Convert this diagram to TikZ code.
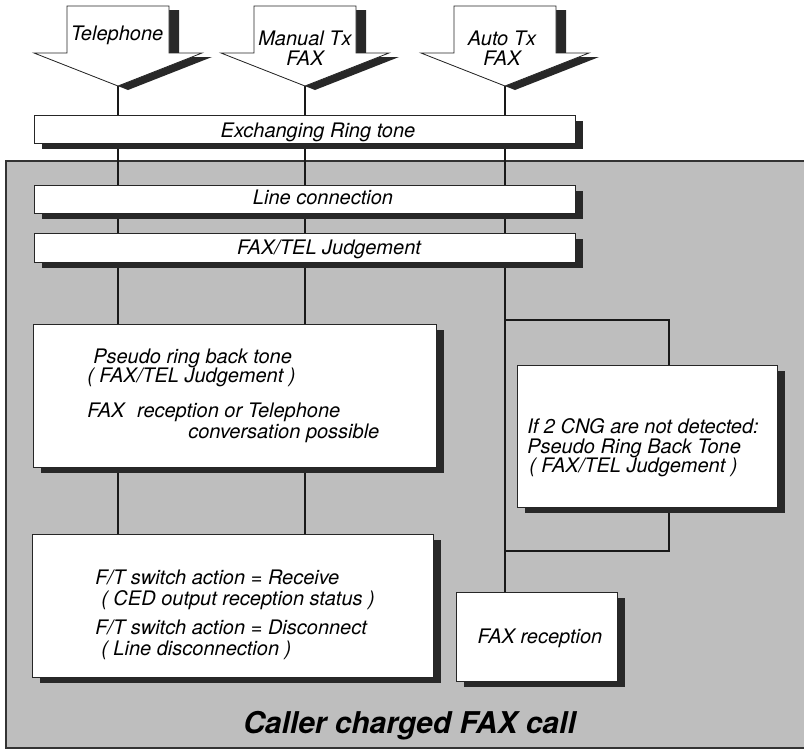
\documentclass[tikz,border=0pt]{standalone}
\usepackage{fontspec}
\setmainfont{TeX Gyre Heros}
\usetikzlibrary{shadows}
\pgfdeclarelayer{bg}
\pgfsetlayers{bg,main}
\definecolor{bggray}{RGB}{190,190,190}
\definecolor{shd}{RGB}{40,40,40}
\begin{document}
\begin{tikzpicture}[x=0.75pt,y=-0.75pt,
  txt/.style={inner sep=0pt, font=\fontsize{15}{17}\selectfont\itshape},
  box/.style={draw=black!85, line width=0.6pt, fill=white, anchor=north west, inner sep=0pt,
    drop shadow={shadow xshift=6pt, shadow yshift=-4.5pt, fill=shd, opacity=1}},
  conn/.style={line width=1.6pt, draw=black!90},
  inarrow/.pic={
    \fill[shd] (-41,10) -- (61,10) -- (61,57) -- (94,57) -- (10,90) -- (-74,57) -- (-41,57) -- cycle;
    \filldraw[fill=white, draw=black!85, line width=0.6pt]
      (-51,6) -- (51,6) -- (51,53) -- (84,53) -- (0,86) -- (-84,53) -- (-51,53) -- cycle;
    \coordinate (-tip) at (0,86);
  }]
\useasboundingbox (0,0) rectangle (804,751);

% input arrows
\pic (T) at (118,0) {inarrow};
\pic (M) at (305,0) {inarrow};
\pic (A) at (505,0) {inarrow};
\node[txt, anchor=base] (ttel) at (117,40) {Telephone};
\node[txt, anchor=base] (tman1) at (305,45) {Manual Tx};
\node[txt, anchor=base] (tman2) at (305,65) {FAX};
\node[txt, anchor=base] (taut1) at (502,45) {Auto Tx};
\node[txt, anchor=base] (taut2) at (502,65) {FAX};

% bars
\node[box, minimum width=405.75pt, minimum height=21pt] (exch) at (34,115) {};
\node[txt, anchor=base] (texch) at (318,137) {Exchanging Ring tone};
\node[box, minimum width=405.75pt, minimum height=21pt] (lconn) at (34,185) {};
\node[txt, anchor=base] (tlconn) at (323,204) {Line connection};
\node[box, minimum width=405.75pt, minimum height=21.75pt] (ftj) at (34,233) {};
\node[txt, anchor=base] (tftj) at (329,254) {FAX/TEL Judgement};

% pseudo ring back box
\node[box, minimum width=302.25pt, minimum height=107.25pt] (pseudo) at (33,324) {};
\node[txt, anchor=base west] (tp1) at (93,363) {Pseudo ring back tone};
\node[txt, anchor=base west] (tp2) at (87,382) {( FAX/TEL Judgement )};
\node[txt, anchor=base west] (tp3) at (87,417) {FAX\hspace{0.35em} reception or Telephone};
\node[txt, anchor=base west] (tp4) at (188,438) {conversation possible};

% CNG box
\node[box, minimum width=195pt, minimum height=106.5pt] (cng) at (517,365) {};
\node[txt, anchor=base west] (tc1) at (527,433) {If 2 CNG are not detected:};
\node[txt, anchor=base west] (tc2) at (527,453) {Pseudo Ring Back Tone};
\node[txt, anchor=base west] (tc3) at (529,472) {( FAX/TEL Judgement )};

% switch action box
\node[box, minimum width=300.75pt, minimum height=107.25pt] (sw) at (32,534) {};
\node[txt, anchor=base west] (ts1) at (95,584) {F/T switch action = Receive};
\node[txt, anchor=base west] (ts2) at (101,605) {( CED output reception status )};
\node[txt, anchor=base west] (ts3) at (95,634) {F/T switch action = Disconnect};
\node[txt, anchor=base west] (ts4) at (101,655) {( Line disconnection )};

% FAX reception box
\node[box, minimum width=120.75pt, minimum height=66.75pt] (faxrx) at (456,592) {};
\node[txt, anchor=base] (tfaxrx) at (540,643) {FAX reception};

% region label
\node[inner sep=0pt, anchor=base west, font=\fontsize{22.5}{26}\selectfont\bfseries\itshape]
  (region) at (243,733) {Caller charged FAX call};

\coordinate (bu) at (669,320);
\coordinate (bd) at (669,551);

\begin{pgfonlayer}{bg}
  \fill[white] (0,0) rectangle (804,751);
  \filldraw[fill=bggray, draw=black!80, line width=1.2pt] (6,161) rectangle (830,748);
  \draw[conn] (T-tip) -- (T-tip |- sw.north);
  \draw[conn] (M-tip) -- (M-tip |- sw.north);
  \draw[conn] (A-tip) -- (A-tip |- faxrx.north);
  \draw[conn] (A-tip |- bu) -- (bu) -- (bu |- cng.north);
  \draw[conn] (bd |- cng.south) -- (bd) -- (A-tip |- bd);
\end{pgfonlayer}
\end{tikzpicture}
\end{document}
